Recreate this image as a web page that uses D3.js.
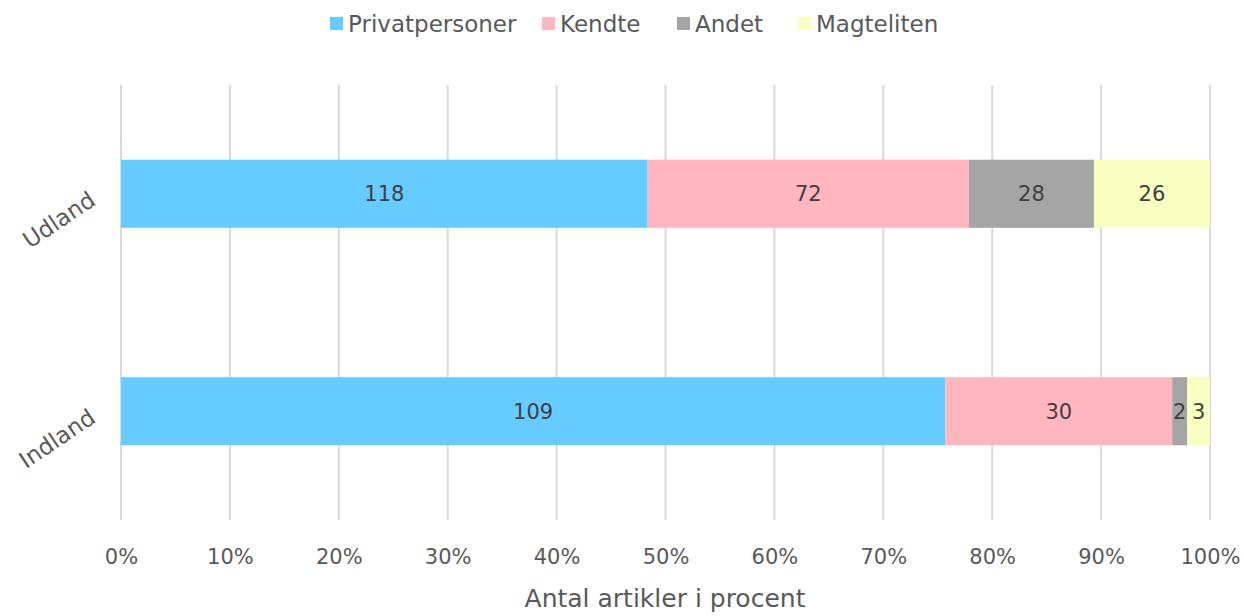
<!DOCTYPE html>
<html><head><meta charset="utf-8">
<script src="https://cdn.jsdelivr.net/npm/d3@7"></script>
<style>body{margin:0;background:#fff}svg{display:block}text{font-family:"DejaVu Sans",sans-serif}</style>
</head><body><svg id="c" width="1244" height="616"></svg>
<script>
const categories = ["Udland", "Indland"];
const seriesNames = ["Privatpersoner", "Kendte", "Andet", "Magteliten"];
const privatpersoner = [118, 109];
const kendte = [72, 30];
const andet = [28, 2];
const magteliten = [26, 3];
const tickLabels = ["0%","10%","20%","30%","40%","50%","60%","70%","80%","90%","100%"];
const colors = ["#66CCFF", "#FFB6BE", "#A5A5A5", "#F9FFC1"];

const svg = d3.select("#c");
const W = 1244, H = 616;
const m = {left:121, right:34, top:85, bottom:96};
const x = d3.scaleLinear().domain([0,1]).range([m.left, W - m.right]);
const y = d3.scaleBand().domain(categories).range([m.top, H - m.bottom]).paddingInner(0.687).paddingOuter(0.3435);

const rows = categories.map((c,i)=>({cat:c, Privatpersoner:privatpersoner[i], Kendte:kendte[i], Andet:andet[i], Magteliten:magteliten[i]}));
const stack = d3.stack().keys(seriesNames).offset(d3.stackOffsetExpand);
const stacked = stack(rows);

// gridlines
svg.append("g").selectAll("line").data(d3.range(0, 1.0001, 0.1)).join("line")
  .attr("x1", d=>x(d)).attr("x2", d=>x(d)).attr("y1", m.top).attr("y2", H - m.bottom)
  .attr("stroke", "#D9D9D9").attr("stroke-width", 2);

// bars
const g = svg.append("g");
stacked.forEach((s, si) => {
  g.selectAll(null).data(s).join("rect")
    .attr("x", d=>x(d[0])).attr("width", d=>x(d[1])-x(d[0]))
    .attr("y", d=>y(d.data.cat)).attr("height", y.bandwidth())
    .attr("fill", colors[si]);
  g.selectAll(null).data(s).join("text")
    .attr("x", d=>(x(d[0])+x(d[1]))/2).attr("y", d=>y(d.data.cat)+y.bandwidth()/2)
    .attr("dy", "0.35em").attr("text-anchor", "middle")
    .attr("font-size", 21).attr("fill", "#404040")
    .text(d=>d.data[s.key]);
});

// x axis labels
const xAxis = d3.axisBottom(x).tickValues(d3.range(0, 1.0001, 0.1)).tickFormat((d,i)=>tickLabels[i]).tickSize(0).tickPadding(0);
const ax = svg.append("g").attr("transform", `translate(0,${H - m.bottom})`).call(xAxis);
ax.select(".domain").remove();
ax.selectAll("text").attr("font-size", 21).attr("fill", "#595959").attr("dy", null).attr("y", 44)
  .style("font-family", '"DejaVu Sans",sans-serif');

// y labels
const yAxis = d3.axisLeft(y).tickSize(0).tickPadding(0);
const ay = svg.append("g").attr("transform", `translate(${m.left},0)`).call(yAxis);
ay.select(".domain").remove();
ay.selectAll("text").attr("font-size", 23).attr("fill", "#595959")
  .attr("x", null).attr("dy", null)
  .attr("text-anchor", "end")
  .attr("transform", "translate(-24,10) rotate(-34)")
  .style("font-family", '"DejaVu Sans",sans-serif');

// axis title
svg.append("text").attr("x", 665).attr("y", 607).attr("text-anchor", "middle")
  .attr("font-size", 25).attr("fill", "#595959").text("Antal artikler i procent");

// legend
const legX = [330, 542, 677, 798];
const lg = svg.append("g");
seriesNames.forEach((n,i)=>{
  lg.append("rect").attr("x", legX[i]).attr("y", 17).attr("width", 13).attr("height", 13).attr("fill", colors[i]);
  lg.append("text").attr("x", legX[i]+18).attr("y", 32).attr("font-size", 23).attr("fill", "#595959").text(n);
});
</script></body></html>
